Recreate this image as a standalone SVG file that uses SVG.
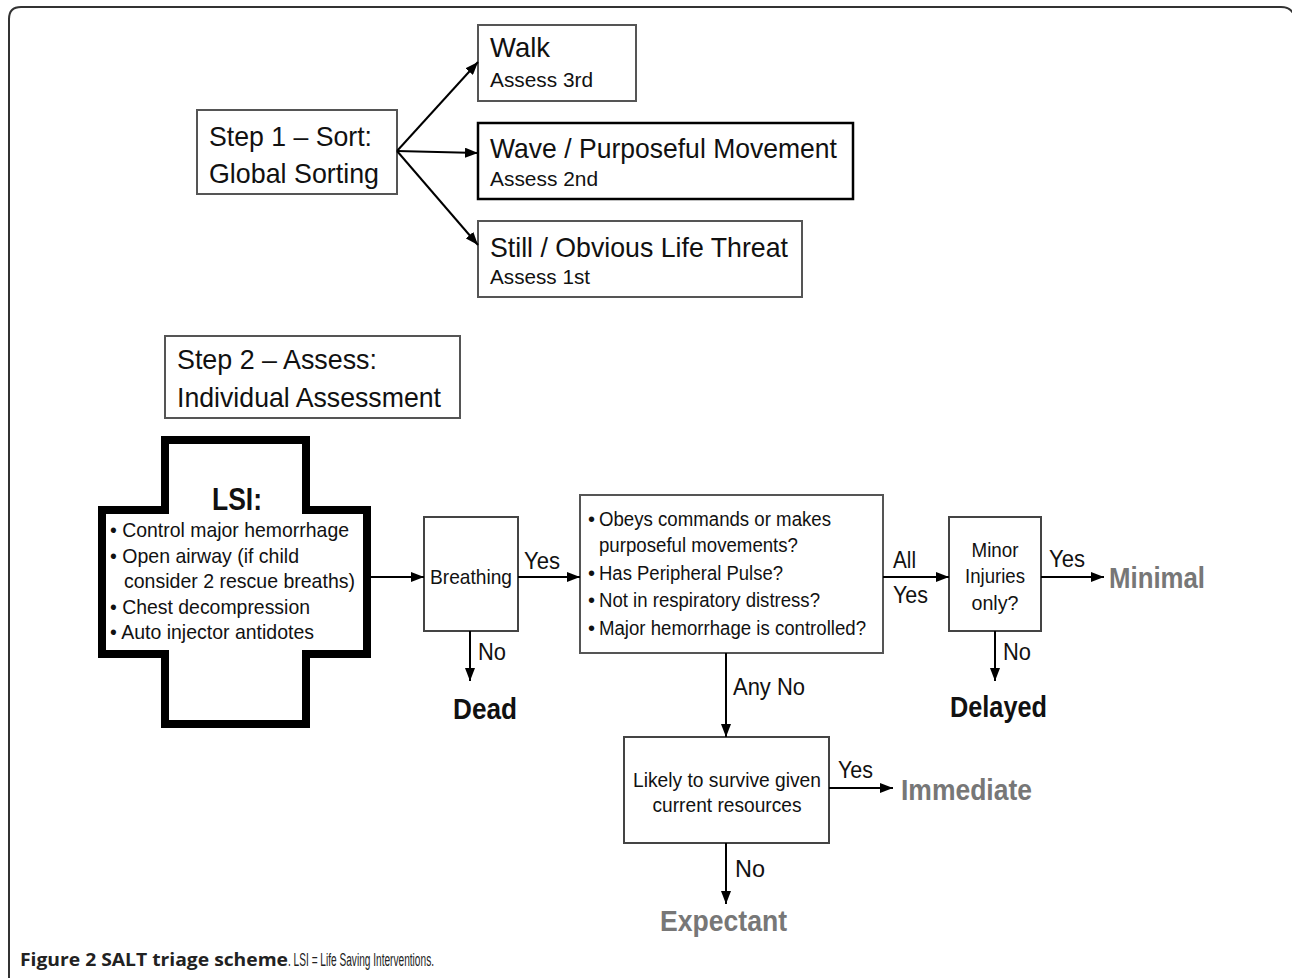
<svg xmlns="http://www.w3.org/2000/svg" width="1292" height="978" viewBox="0 0 1292 978">
<defs>
<marker id="ah" markerUnits="userSpaceOnUse" markerWidth="14" markerHeight="10" refX="13" refY="5" orient="auto">
<path d="M0,0 L13,5 L0,10 z" fill="#000"/>
</marker>
<style>
.t{font-family:"Liberation Sans",Arial,sans-serif;fill:#111}
.box{fill:#fff;stroke:#555;stroke-width:2}
.conn{stroke:#000;stroke-width:2;fill:none;marker-end:url(#ah)}
.big{font-size:28px}
.sub{font-size:21px}
.lbl{font-size:24px}
.res{font-size:30px;font-weight:bold}
.grey{fill:#777}
.q{font-size:21px}
</style>
</defs>
<rect width="1292" height="978" fill="#fff"/>
<path d="M9,978 V19 Q9,7 21,7 H1281 Q1293,7 1295,19" fill="none" stroke="#333" stroke-width="2"/>

<g id="step1">
<rect class="box" x="197" y="110" width="200" height="84"/>
<text class="t big" x="209" y="146" textLength="163" lengthAdjust="spacingAndGlyphs">Step 1 – Sort:</text>
<text class="t big" x="209" y="183" textLength="170" lengthAdjust="spacingAndGlyphs">Global Sorting</text>
</g>
<g id="walk">
<rect class="box" x="478" y="25" width="158" height="76"/>
<text class="t big" x="490" y="57" textLength="60" lengthAdjust="spacingAndGlyphs">Walk</text>
<text class="t sub" x="490" y="87" textLength="103" lengthAdjust="spacingAndGlyphs">Assess 3rd</text>
</g>
<g id="wave">
<rect class="box" x="478" y="123" width="375" height="76" style="stroke:#000;stroke-width:2.5"/>
<text class="t big" x="490" y="158" textLength="347" lengthAdjust="spacingAndGlyphs">Wave / Purposeful Movement</text>
<text class="t sub" x="490" y="186" textLength="108" lengthAdjust="spacingAndGlyphs">Assess 2nd</text>
</g>
<g id="still">
<rect class="box" x="478" y="221" width="324" height="76"/>
<text class="t big" x="490" y="257" textLength="298" lengthAdjust="spacingAndGlyphs">Still / Obvious Life Threat</text>
<text class="t sub" x="490" y="284" textLength="100" lengthAdjust="spacingAndGlyphs">Assess 1st</text>
</g>

<g id="step2">
<rect class="box" x="165" y="336" width="295" height="82"/>
<text class="t big" x="177" y="369" textLength="200" lengthAdjust="spacingAndGlyphs">Step 2 – Assess:</text>
<text class="t big" x="177" y="407" textLength="264" lengthAdjust="spacingAndGlyphs">Individual Assessment</text>
</g>

<g id="lsi">
<path d="M165,440 H306 V510 H367 V654 H306 V724 H165 V654 H102 V510 H165 Z" fill="#fff" stroke="#000" stroke-width="8"/>
<text class="t" x="237" y="510" text-anchor="middle" style="font-size:31px;font-weight:bold" textLength="50" lengthAdjust="spacingAndGlyphs">LSI:</text>
<text class="t q" x="110" y="537" textLength="239" lengthAdjust="spacingAndGlyphs">• Control major hemorrhage</text>
<text class="t q" x="110" y="563" textLength="189" lengthAdjust="spacingAndGlyphs">• Open airway (if child</text>
<text class="t q" x="124" y="588" textLength="231" lengthAdjust="spacingAndGlyphs">consider 2 rescue breaths)</text>
<text class="t q" x="110" y="614" textLength="200" lengthAdjust="spacingAndGlyphs">• Chest decompression</text>
<text class="t q" x="110" y="639" textLength="204" lengthAdjust="spacingAndGlyphs">• Auto injector antidotes</text>
</g>

<g id="breathing">
<rect class="box" x="424" y="517" width="94" height="114" style="stroke:#444"/>
<text class="t q" x="430" y="584" textLength="82" lengthAdjust="spacingAndGlyphs">Breathing</text>
</g>

<g id="criteria">
<rect class="box" x="580" y="495" width="303" height="158"/>
<text class="t" x="588" y="526" style="font-size:20px">•</text>
<text class="t" x="599" y="526" style="font-size:20px" textLength="232" lengthAdjust="spacingAndGlyphs">Obeys commands or makes</text>
<text class="t" x="599" y="552" style="font-size:20px" textLength="199" lengthAdjust="spacingAndGlyphs">purposeful movements?</text>
<text class="t" x="588" y="580" style="font-size:20px">•</text>
<text class="t" x="599" y="580" style="font-size:20px" textLength="184" lengthAdjust="spacingAndGlyphs">Has Peripheral Pulse?</text>
<text class="t" x="588" y="607" style="font-size:20px">•</text>
<text class="t" x="599" y="607" style="font-size:20px" textLength="221" lengthAdjust="spacingAndGlyphs">Not in respiratory distress?</text>
<text class="t" x="588" y="635" style="font-size:20px">•</text>
<text class="t" x="599" y="635" style="font-size:20px" textLength="267" lengthAdjust="spacingAndGlyphs">Major hemorrhage is controlled?</text>
</g>

<g id="minor">
<rect class="box" x="949" y="517" width="92" height="114" style="stroke:#444"/>
<text class="t" x="995" y="557" text-anchor="middle" style="font-size:20px" textLength="47" lengthAdjust="spacingAndGlyphs">Minor</text>
<text class="t" x="995" y="583" text-anchor="middle" style="font-size:20px" textLength="60" lengthAdjust="spacingAndGlyphs">Injuries</text>
<text class="t" x="995" y="610" text-anchor="middle" style="font-size:20px" textLength="47" lengthAdjust="spacingAndGlyphs">only?</text>
</g>

<g id="likely">
<rect class="box" x="624" y="737" width="205" height="106" style="stroke:#444"/>
<text class="t" x="727" y="787" text-anchor="middle" style="font-size:20px" textLength="188" lengthAdjust="spacingAndGlyphs">Likely to survive given</text>
<text class="t" x="727" y="812" text-anchor="middle" style="font-size:20px" textLength="149" lengthAdjust="spacingAndGlyphs">current resources</text>
</g>

<g id="dead"><text class="t res" x="453" y="719" textLength="64" lengthAdjust="spacingAndGlyphs">Dead</text></g>
<g id="delayed"><text class="t res" x="950" y="717" textLength="97" lengthAdjust="spacingAndGlyphs">Delayed</text></g>
<g id="minimal"><text class="t res grey" x="1109" y="588" textLength="96" lengthAdjust="spacingAndGlyphs">Minimal</text></g>
<g id="immediate"><text class="t res grey" x="901" y="800" textLength="131" lengthAdjust="spacingAndGlyphs">Immediate</text></g>
<g id="expectant"><text class="t res grey" x="660" y="931" textLength="127" lengthAdjust="spacingAndGlyphs">Expectant</text></g>

<g id="connectors">
<line class="conn" x1="397" y1="151" x2="478" y2="62"/>
<line class="conn" x1="397" y1="151" x2="478" y2="153"/>
<line class="conn" x1="397" y1="151" x2="478" y2="245"/>
<line class="conn" x1="371" y1="577" x2="424" y2="577"/>
<line class="conn" x1="518" y1="577" x2="580" y2="577"/>
<line class="conn" x1="470" y1="631" x2="470" y2="681"/>
<line class="conn" x1="883" y1="577" x2="949" y2="577"/>
<line class="conn" x1="1041" y1="577" x2="1104" y2="577"/>
<line class="conn" x1="995" y1="631" x2="995" y2="681"/>
<line class="conn" x1="726" y1="653" x2="726" y2="737"/>
<line class="conn" x1="829" y1="788" x2="893" y2="788"/>
<line class="conn" x1="726" y1="843" x2="726" y2="904"/>
<text class="t lbl" x="524" y="569" textLength="36" lengthAdjust="spacingAndGlyphs">Yes</text>
<text class="t lbl" x="478" y="660" textLength="28" lengthAdjust="spacingAndGlyphs">No</text>
<text class="t lbl" x="893" y="568" textLength="23" lengthAdjust="spacingAndGlyphs">All</text>
<text class="t lbl" x="893" y="603" textLength="35" lengthAdjust="spacingAndGlyphs">Yes</text>
<text class="t lbl" x="1049" y="567" textLength="36" lengthAdjust="spacingAndGlyphs">Yes</text>
<text class="t lbl" x="1003" y="660" textLength="28" lengthAdjust="spacingAndGlyphs">No</text>
<text class="t lbl" x="733" y="695" textLength="72" lengthAdjust="spacingAndGlyphs">Any No</text>
<text class="t lbl" x="838" y="778" textLength="35" lengthAdjust="spacingAndGlyphs">Yes</text>
<text class="t lbl" x="735" y="877" textLength="30" lengthAdjust="spacingAndGlyphs">No</text>
</g>

<g id="caption">
<text x="20" y="966" style="font-family:'Open Sans','Liberation Sans',sans-serif;font-size:18px;font-weight:bold;fill:#222" textLength="268" lengthAdjust="spacingAndGlyphs">Figure 2 SALT triage scheme</text>
<text x="288" y="966" style="font-family:'Liberation Sans',sans-serif;font-size:18px;fill:#222" textLength="146" lengthAdjust="spacingAndGlyphs">. LSI = Life Saving Interventions.</text>
</g>
</svg>
